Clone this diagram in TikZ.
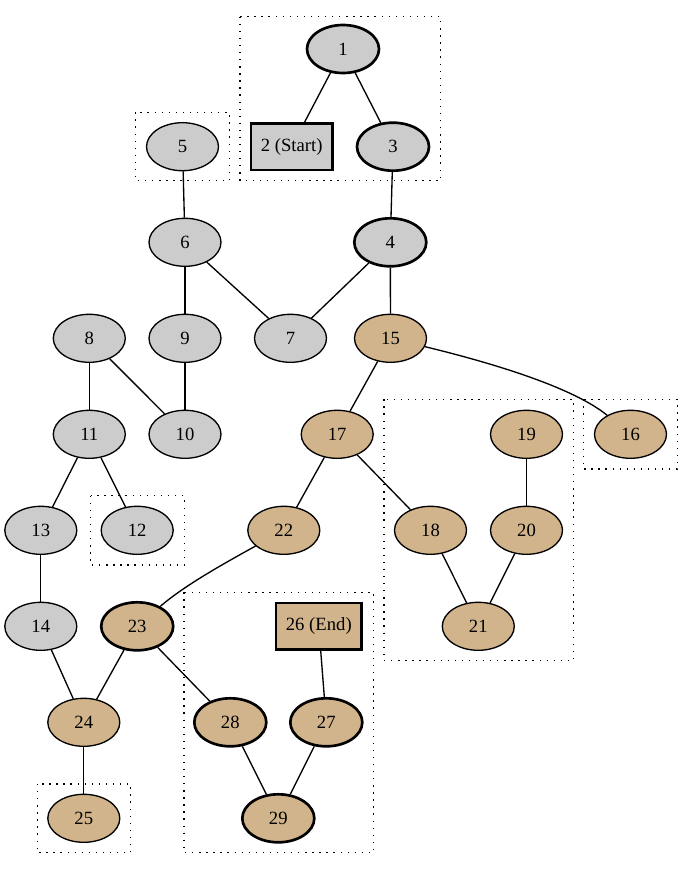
\documentclass[tikz,border=0pt]{standalone}
\usepackage{fontspec}
\setmainfont{Liberation Serif}
\usepackage{tikz}
\usetikzlibrary{shapes}
\definecolor{grayfill}{HTML}{CCCCCC}
\definecolor{tanfill}{HTML}{D2B48C}
\tikzset{
  vert/.style={ellipse,draw,line width=1pt,minimum width=54pt,minimum height=36pt,inner sep=0pt,font=\fontsize{14}{16}\selectfont},
  boxvert/.style={rectangle,draw,line width=2pt,minimum height=35pt,inner sep=0pt,font=\fontsize{14}{16}\selectfont},
  heavy/.style={line width=2pt},
  grayv/.style={fill=grayfill},
  tanv/.style={fill=tanfill},
  cluster/.style={line width=1pt,dash pattern=on 1pt off 4.3pt},
  link/.style={line width=1pt}
}

\begin{document}
\begin{tikzpicture}[x=0.75pt,y=-0.75pt]
  \useasboundingbox (0,0) rectangle (693,869);
  % clusters
  \draw[cluster] (240,16.7) rectangle (440.7,180.7);
  \draw[cluster] (135.7,112.3) rectangle (229.3,180.7);
  \draw[cluster] (583.3,399.3) rectangle (677.3,469);
  \draw[cluster] (384,399.3) rectangle (573.3,660.7);
  \draw[cluster] (90.7,495.7) rectangle (184.3,565);
  \draw[cluster] (184,592.3) rectangle (373.3,852.7);
  \draw[cluster] (37.3,784) rectangle (130.7,852.7);
  % nodes
  \node[vert,grayv,heavy] (n1) at (343,49) {1};
  \node[boxvert,grayv,minimum width=61pt] (n2) at (291.7,146.7) {2 (Start)};
  \node[vert,grayv,heavy] (n3) at (393,146.7) {3};
  \node[vert,grayv] (n5) at (182.5,146.7) {5};
  \node[vert,grayv] (n6) at (185,242.3) {6};
  \node[vert,grayv,heavy] (n4) at (390.3,242.3) {4};
  \node[vert,grayv] (n8) at (89.3,338.3) {8};
  \node[vert,grayv] (n9) at (185,338.3) {9};
  \node[vert,grayv] (n7) at (290.5,338.3) {7};
  \node[vert,tanv] (n15) at (390.5,338.3) {15};
  \node[vert,grayv] (n11) at (89.3,434.3) {11};
  \node[vert,grayv] (n10) at (185,434.3) {10};
  \node[vert,tanv] (n17) at (337.2,434.3) {17};
  \node[vert,tanv] (n19) at (526.5,434.3) {19};
  \node[vert,tanv] (n16) at (630.5,434.3) {16};
  \node[vert,grayv] (n13) at (40.8,530.3) {13};
  \node[vert,grayv] (n12) at (137.2,530.3) {12};
  \node[vert,tanv] (n22) at (283.8,530.3) {22};
  \node[vert,tanv] (n18) at (430.5,530.3) {18};
  \node[vert,tanv] (n20) at (526.5,530.3) {20};
  \node[vert,grayv] (n14) at (40.8,626.3) {14};
  \node[vert,tanv,heavy] (n23) at (137.2,626.3) {23};
  \node[boxvert,tanv,minimum width=64pt] (n26) at (318.8,626.3) {26 (End)};
  \node[vert,tanv] (n21) at (478.3,626.3) {21};
  \node[vert,tanv] (n24) at (83.8,722.3) {24};
  \node[vert,tanv,heavy] (n28) at (230.3,722.3) {28};
  \node[vert,tanv,heavy] (n27) at (326.3,722.3) {27};
  \node[vert,tanv] (n25) at (83.8,818.3) {25};
  \node[vert,tanv,heavy] (n29) at (278.3,818.3) {29};
  % edges
  \draw[link] (n1) -- (n2);
  \draw[link] (n1) -- (n3);
  \draw[link] (n3) -- (n4);
  \draw[link] (n5) -- (n6);
  \draw[link] (n6) -- (n9);
  \draw[link] (n6) -- (n7);
  \draw[link] (n4) -- (n7);
  \draw[link] (n4) -- (n15);
  \draw[link] (n8) -- (n11);
  \draw[link] (n8) -- (n10);
  \draw[link] (n9) -- (n10);
  \draw[link] (n15) -- (n17);
  \draw[link] (n15) .. controls (480,360) and (570,385) .. (n16);
  \draw[link] (n11) -- (n13);
  \draw[link] (n11) -- (n12);
  \draw[link] (n17) -- (n22);
  \draw[link] (n17) -- (n18);
  \draw[link] (n19) -- (n20);
  \draw[link] (n18) -- (n21);
  \draw[link] (n20) -- (n21);
  \draw[link] (n22) .. controls (225,563) and (185,585) .. (n23);
  \draw[link] (n13) -- (n14);
  \draw[link] (n14) -- (n24);
  \draw[link] (n23) -- (n24);
  \draw[link] (n23) -- (n28);
  \draw[link] (n26) -- (n27);
  \draw[link] (n28) -- (n29);
  \draw[link] (n27) -- (n29);
  \draw[link] (n24) -- (n25);
\end{tikzpicture}
\end{document}
